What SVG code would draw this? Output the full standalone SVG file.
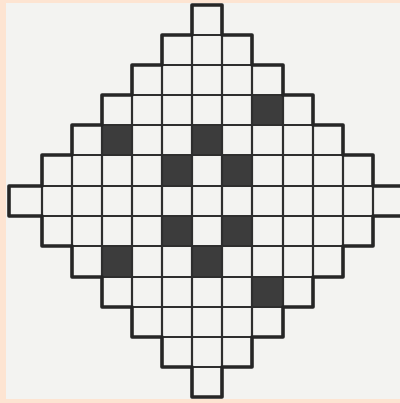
<svg xmlns="http://www.w3.org/2000/svg" width="400" height="403" viewBox="0 0 400 403">
<style>
.inner{stroke:#2e2e2e;stroke-width:2.2;fill:none;stroke-linecap:square}
.outline{stroke:#262626;stroke-width:3.6;fill:none;stroke-linejoin:round}
.dark{fill:#3c3c3c}
</style>
<rect x="0" y="0" width="400" height="403" fill="#fde4d2"/>
<rect x="6" y="3" width="394" height="396" fill="#f3f3f1"/>
<g id="filled-cells">
<rect class="dark" x="252" y="95" width="31" height="30"/>
<rect class="dark" x="102" y="125" width="30" height="30"/>
<rect class="dark" x="192" y="125" width="30" height="30"/>
<rect class="dark" x="162" y="155" width="30" height="31"/>
<rect class="dark" x="222" y="155" width="30" height="31" fill="#464646"/>
<rect class="dark" x="162" y="216" width="30" height="30"/>
<rect class="dark" x="222" y="216" width="30" height="30" fill="#464646"/>
<rect class="dark" x="102" y="246" width="30" height="31"/>
<rect class="dark" x="192" y="246" width="30" height="31"/>
<rect class="dark" x="252" y="277" width="31" height="30"/>
</g>
<g id="grid-lines" class="inner">
<line x1="192" y1="35" x2="222" y2="35"/>
<line x1="162" y1="65" x2="252" y2="65"/>
<line x1="132" y1="95" x2="283" y2="95"/>
<line x1="102" y1="125" x2="313" y2="125"/>
<line x1="72" y1="155" x2="343" y2="155"/>
<line x1="42" y1="186" x2="373" y2="186"/>
<line x1="42" y1="216" x2="373" y2="216"/>
<line x1="72" y1="246" x2="343" y2="246"/>
<line x1="102" y1="277" x2="313" y2="277"/>
<line x1="132" y1="307" x2="283" y2="307"/>
<line x1="162" y1="337" x2="252" y2="337"/>
<line x1="192" y1="367" x2="222" y2="367"/>
<line x1="42" y1="186" x2="42" y2="216"/>
<line x1="72" y1="155" x2="72" y2="246"/>
<line x1="102" y1="125" x2="102" y2="277"/>
<line x1="132" y1="95" x2="132" y2="307"/>
<line x1="162" y1="65" x2="162" y2="337"/>
<line x1="192" y1="35" x2="192" y2="367"/>
<line x1="222" y1="35" x2="222" y2="367"/>
<line x1="252" y1="65" x2="252" y2="337"/>
<line x1="283" y1="95" x2="283" y2="307"/>
<line x1="313" y1="125" x2="313" y2="277"/>
<line x1="343" y1="155" x2="343" y2="246"/>
<line x1="373" y1="186" x2="373" y2="216"/>
</g>
<g id="outline">
<path class="outline" d="M192,5 H222 V35 H252 V65 H283 V95 H313 V125 H343 V155 H373 V186 H404 V216 H373 V246 H343 V277 H313 V307 H283 V337 H252 V367 H222 V397 H192 V367 H162 V337 H132 V307 H102 V277 H72 V246 H42 V216 H9 V186 H42 V155 H72 V125 H102 V95 H132 V65 H162 V35 H192 Z"/>
</g>
</svg>
